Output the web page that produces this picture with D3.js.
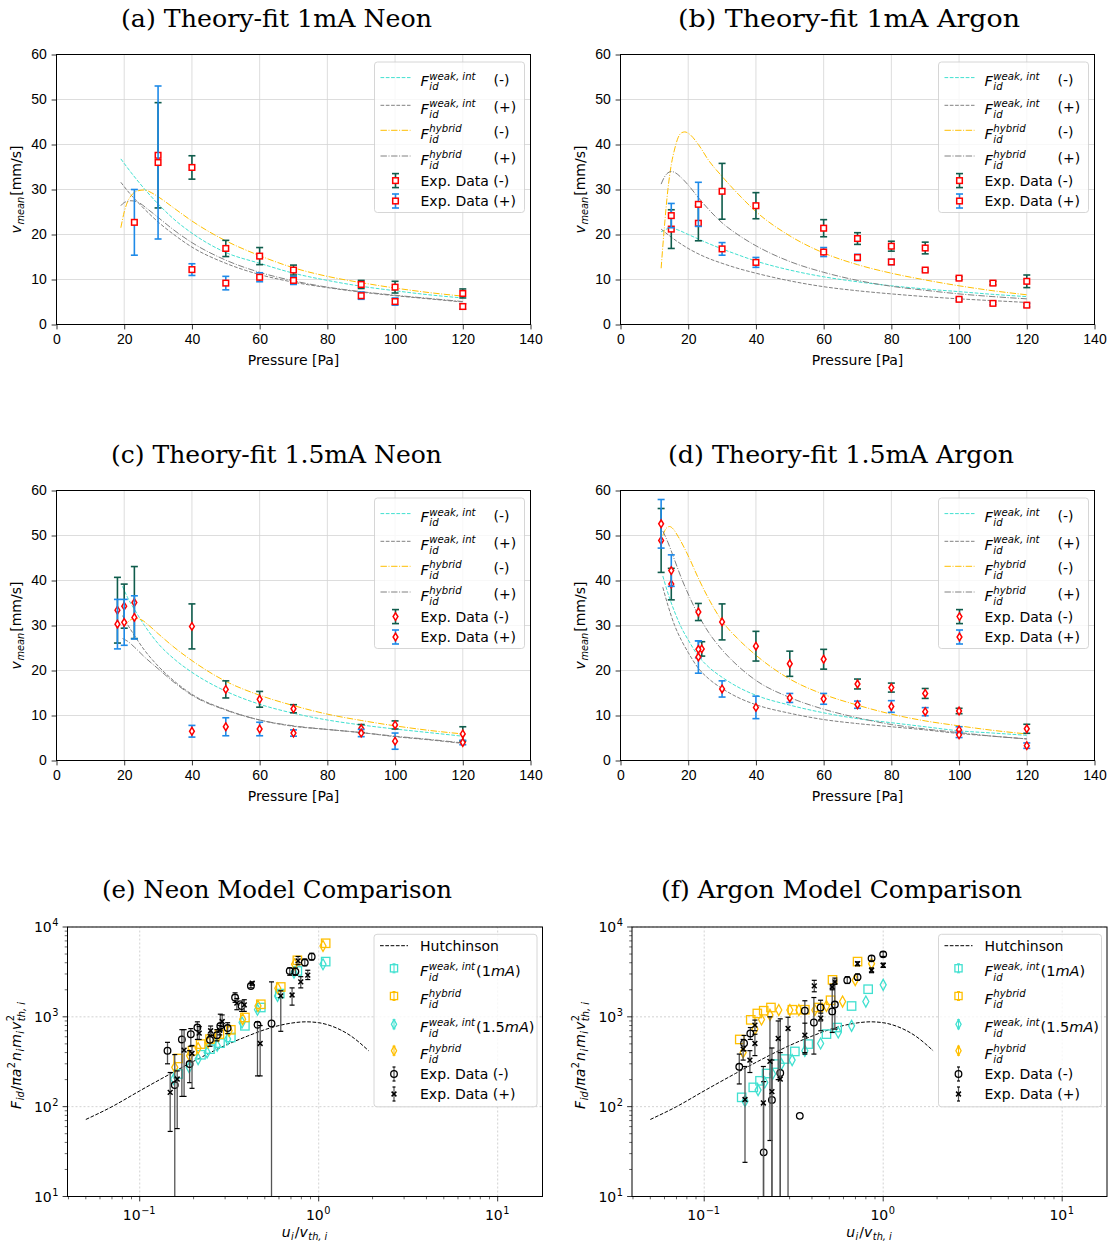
<!DOCTYPE html>
<html>
<head>
<meta charset="utf-8">
<script src="https://cdn.jsdelivr.net/npm/d3@7"></script>
<style>
  body { margin: 0; background: #fff; }
  svg { display: block; }
</style>
</head>
<body>
<script>
// ---------- tick values ----------
const pressTicks = [0, 20, 40, 60, 80, 100, 120, 140];
const velTicks = [0, 10, 20, 30, 40, 50, 60];
const ratioTicks = [0.1, 1, 10];
const ratioTickExp = ['\u22121', '0', '1'];
const forceTicks = [10, 100, 1000, 10000];
const forceTickExp = ['1', '2', '3', '4'];

const panelTitles = ['(a) Theory-fit 1mA Neon', '(b) Theory-fit 1mA Argon',
  '(c) Theory-fit 1.5mA Neon', '(d) Theory-fit 1.5mA Argon',
  '(e) Neon Model Comparison', '(f) Argon Model Comparison'];

// ---------- (a) 1mA Neon : [pressure, v_mean, err] ----------
const neon1_minus = [[30,37.6,11.7],[40,34.9,2.6],[50,16.9,1.8],[60,15.2,1.9],[70,12.1,1.1],[90,8.9,0.9],[100,8.3,1.3],[120,6.9,1.0]];
const neon1_plus = [[23,22.7,7.3],[30,36.0,17.0],[40,12.2,1.3],[50,9.2,1.5],[60,10.5,1.0],[70,9.8,0.9],[90,6.4,0.8],[100,5.1,0.8],[120,4.0,0.6]];
const neon1_weakMinus = [[19,36.8],[22,33.8],[25,31],[30,26.8],[35,23.2],[40,20.3],[50,16.0],[60,13.6],[70,11.4],[80,9.8],[90,8.5],[100,7.5],[110,6.6],[120,5.9]];
const neon1_weakPlus = [[19,31.6],[22,28.8],[25,26.4],[30,22.8],[35,19.8],[40,17.2],[50,13.6],[60,11.1],[70,9.4],[80,8.2],[90,7.2],[100,6.4],[110,5.7],[120,5.0]];
const neon1_hybMinus = [[19,21.5],[20,25],[21,27.3],[22,28.6],[24,29.7],[26,29.9],[28,29.3],[30,28.4],[35,25.7],[40,23.0],[50,18.6],[60,15.3],[70,12.6],[80,10.7],[90,9.3],[100,8.1],[110,7.1],[120,6.3]];
const neon1_hybPlus = [[19,26.4],[20,27.1],[22,27.5],[24,27.2],[27,25.6],[30,23.8],[35,20.8],[40,18.2],[50,14.3],[60,11.6],[70,9.7],[80,8.3],[90,7.3],[100,6.5],[110,5.8],[120,5.1]];

// ---------- (b) 1mA Argon ----------
const argon1_minus = [[15,21.2,4.3],[23,22.5,3.9],[30,29.6,6.2],[40,26.4,2.9],[60,21.4,1.9],[70,19.1,1.3],[80,17.4,1.1],[90,17.0,1.3],[100,10.3,0.3],[110,9.2,0.4],[120,9.6,1.4]];
const argon1_plus = [[15,24.2,2.7],[23,26.7,4.9],[30,16.8,1.4],[40,13.8,1.1],[60,16.1,1.0],[70,14.9,0.7],[80,13.9,0.6],[90,12.1,0.3],[100,5.6,0.3],[110,4.7,0.3],[120,4.3,0.4]];
const argon1_weakMinus = [[12,20.6],[14,21.3],[15,21.4],[17,21.0],[20,20.0],[23,19.0],[26,18.0],[30,16.8],[35,15.4],[40,14.1],[50,12.1],[60,10.6],[70,9.5],[80,8.6],[90,7.9],[100,7.3],[110,6.7],[120,6.2]];
const argon1_weakPlus = [[12,21.2],[15,19.4],[20,16.9],[25,15.0],[30,13.6],[35,12.4],[40,11.4],[50,9.7],[60,8.4],[70,7.5],[80,6.8],[90,6.2],[100,5.7],[110,5.3],[120,4.9]];
const argon1_hybMinus = [[12,12.5],[13,22],[14,30],[15,35.5],[16,39],[17,41.5],[18,42.6],[19,42.8],[20,42.5],[23,40.0],[26,36.5],[30,32.9],[35,28.8],[40,25.1],[50,19.7],[60,15.9],[70,13.3],[80,11.4],[90,9.9],[100,8.6],[110,7.5],[120,6.6]];
const argon1_hybPlus = [[12,31.2],[13,32.8],[14,33.7],[15,34.0],[16,33.8],[18,32.6],[20,31],[23,28.2],[26,25.6],[30,22.6],[35,19.8],[40,17.5],[50,14.0],[60,11.6],[70,9.8],[80,8.5],[90,7.6],[100,6.8],[110,6.2],[120,5.7]];

// ---------- (c) 1.5mA Neon ----------
const neon15_minus = [[18,33.4,7.3],[20,34.3,4.9],[23,35.1,8.0],[40,29.8,5.0],[50,15.8,1.9],[60,13.6,1.75],[70,11.5,0.9],[90,7.1,0.9],[100,7.9,0.9],[120,5.9,1.6]];
const neon15_plus = [[18,30.3,5.5],[20,30.7,5.1],[23,31.8,4.8],[40,6.5,1.3],[50,7.5,2.0],[60,7.0,1.5],[70,6.1,0.7],[90,6.1,0.8],[100,4.3,1.8],[120,4.0,0.5]];
const neon15_weakMinus = [[19.5,38.7],[21,36.2],[23,33.6],[26,30.0],[30,26.0],[35,22.4],[40,19.6],[50,15.4],[60,12.5],[70,10.5],[80,9.0],[90,7.9],[100,7.0],[110,6.2],[120,5.4]];
const neon15_weakPlus = [[19.5,32.2],[21,30.2],[23,27.8],[26,24.5],[30,21.0],[35,17.5],[40,14.7],[50,11.3],[60,9.0],[70,7.6],[80,6.9],[90,6.2],[100,5.3],[110,4.6],[120,3.8]];
const neon15_hybMinus = [[19.5,29.4],[21,30.7],[23,31.6],[25,31.3],[27,30.2],[30,28.2],[35,25.0],[40,22.2],[50,17.6],[60,14.5],[70,12.2],[80,10.3],[90,8.9],[100,7.7],[110,6.7],[120,5.9]];
const neon15_hybPlus = [[19.5,27.1],[21,26.5],[23,25.2],[26,23.0],[30,20.4],[35,17.2],[40,14.5],[50,11.2],[60,9.0],[70,7.7],[80,6.9],[90,6.2],[100,5.4],[110,4.7],[120,3.9]];

// ---------- (d) 1.5mA Argon ----------
const argon15_minus = [[12,48.9,7.1],[15,39.2,3.5],[23,33.0,1.9],[24,24.8,1.6],[30,30.8,4.0],[40,25.4,3.3],[50,21.5,2.8],[60,22.5,2.2],[70,17.0,1.1],[80,16.2,1.0],[90,14.9,1.1],[100,11.0,0.6],[120,7.05,1.0]];
const argon15_plus = [[12,52.6,5.4],[15,42.2,3.5],[23,24.7,1.9],[23,23.0,3.6],[30,15.9,1.8],[40,11.8,2.5],[50,13.9,1.0],[60,13.7,1.2],[70,12.4,0.8],[80,12.0,1.3],[90,10.85,0.9],[100,6.8,0.7],[100,5.7,0.6],[120,3.3,0.6]];
const argon15_weakMinus = [[12.5,41.0],[14,37.2],[16,33.0],[18,29.5],[20,26.8],[23,23.2],[26,20.8],[30,18.5],[35,16.2],[40,14.5],[50,12.3],[60,10.6],[70,9.3],[80,8.4],[90,7.5],[100,6.6],[110,6.1],[120,5.6]];
const argon15_weakPlus = [[12.5,38.5],[14,34.5],[16,30.0],[18,26.7],[20,24.0],[23,20.5],[26,18.2],[30,16.0],[35,13.9],[40,12.4],[50,10.5],[60,9.1],[70,8.2],[80,7.5],[90,6.8],[100,6.0],[110,5.4],[120,4.8]];
const argon15_hybMinus = [[12.5,50.0],[13.5,51.6],[14.5,52.0],[15.5,51.5],[17,49.8],[20,45.5],[23,40.5],[26,36.0],[30,31.0],[35,26.8],[40,23.4],[50,18.1],[60,14.7],[70,12.3],[80,10.3],[90,8.8],[100,7.7],[110,6.7],[120,5.9]];
const argon15_hybPlus = [[12.5,51],[14,48.5],[16,44.5],[18,40.5],[20,37.0],[23,32.3],[26,28.5],[30,24.6],[35,20.8],[40,17.8],[50,14.0],[60,11.4],[70,9.5],[80,8.0],[90,7.0],[100,6.2],[110,5.4],[120,4.8]];

// ---------- (e)/(f) model comparison : [u_i/v_th, F] ----------
const hutchinson = [[0.05,72],[0.07,100],[0.1,150],[0.15,235],[0.2,320],[0.3,480],[0.4,610],[0.5,720],[0.6,800],[0.7,850],[0.85,880],[1.0,860],[1.2,780],[1.5,620],[1.9,420]];

const neonWeak1 = [[0.164,231],[0.220,378],[0.247,437],[0.281,509],[0.323,589],[0.387,794],[0.475,1270],[0.606,1815],[0.760,3240],[1.094,4120]];
const neonHyb1 = [[0.164,344],[0.197,419],[0.219,497],[0.247,565],[0.279,642],[0.323,717],[0.387,984],[0.475,1380],[0.614,2150],[0.760,4260],[1.094,6590]];
const neonWeak15 = [[0.155,203],[0.189,274],[0.212,339],[0.238,402],[0.271,477],[0.310,565],[0.373,865],[0.455,1200],[0.589,1710],[0.728,3110],[1.057,3850]];
const neonHyb15 = [[0.157,274],[0.190,369],[0.212,449],[0.241,519],[0.275,615],[0.316,698],[0.376,942],[0.458,1320],[0.591,2080],[0.733,3850],[1.057,6150]];
// [x, F, lower end, upper end]  (lower end 0 = runs off the axis)
const neonExpMinus = [[0.143,419,300,520],[0.157,174,0,380],[0.172,560,130,720],[0.190,298,185,420],[0.193,640,470,740],[0.210,760,560,880],[0.247,555,470,640],[0.270,625,540,720],[0.282,790,700,1070],[0.310,750,650,860],[0.341,1640,1450,1850],[0.371,1320,1150,1500],[0.418,2200,2100,2350],[0.455,815,220,880],[0.545,843,0,2450],[0.689,3240,2900,3500],[0.741,3190,2900,3500],[0.836,4020,3700,4400],[0.914,4670,4300,5100]];
const neonExpPlus = [[0.148,144,53,240],[0.162,203,57,250],[0.177,426,130,720],[0.196,391,160,480],[0.215,659,560,780],[0.249,700,620,790],[0.280,710,630,800],[0.289,887,780,1050],[0.349,1420,1200,1600],[0.384,1360,1150,1550],[0.425,2370,2250,2450],[0.471,505,220,800],[0.614,1710,690,1950],[0.710,1750,1350,2100],[0.794,2450,2100,2800],[0.869,2910,2600,3300],[0.767,4190,3800,4700]];

const argonWeak1 = [[0.162,127],[0.188,164],[0.205,194],[0.223,234],[0.248,298],[0.282,339],[0.321,412],[0.381,497],[0.482,642],[0.553,760],[0.666,1320],[0.824,2030]];
const argonHyb1 = [[0.158,560],[0.182,926],[0.198,1090],[0.215,1170],[0.236,1270],[0.311,1200],[0.365,1200],[0.434,1270],[0.508,1530],[0.521,2580],[0.719,4120]];
const argonWeak15 = [[0.169,115],[0.200,153],[0.218,186],[0.241,231],[0.270,298],[0.310,330],[0.365,419],[0.447,505],[0.561,670],[0.666,794],[0.800,1480],[1.0,2270]];
const argonHyb15 = [[0.165,402],[0.192,730],[0.209,934],[0.233,1050],[0.261,1190],[0.301,1190],[0.338,1190],[0.415,1190],[0.482,1320],[0.593,1480],[0.698,2560],[0.861,3910]];
const argonExpMinus = [[0.157,278,179,385],[0.167,509,420,620],[0.181,653,560,760],[0.215,31,0,190],[0.239,119,0,330],[0.266,237,0,950],[0.342,79,79,79],[0.365,1170,385,1510],[0.410,865,385,1640],[0.447,1270,900,1530],[0.519,1150,670,2150],[0.537,1370,730,2450],[0.630,2560,2350,2800],[0.719,2770,2550,3000],[0.861,4480,4200,4800],[1.0,4960,4700,5300]];
const argonExpPlus = [[0.165,437,330,560],[0.169,120,24,280],[0.180,330,240,420],[0.192,808,700,920],[0.192,505,370,640],[0.214,110,0,280],[0.233,319,42,1000],[0.239,147,0,450],[0.259,574,200,900],[0.266,203,0,400],[0.294,742,0,990],[0.365,625,400,850],[0.412,2210,1900,2550],[0.448,966,700,1100],[0.519,2150,2000,2300],[0.537,2450,2300,2700],[0.719,3910,3700,4100],[0.861,3300,3100,3500],[1.0,3750,3550,3950]];

// ---------- styles ----------
const cWeak = '#40e0d0', cGray = '#808080', cHyb = '#ffbf00';
const cMinusBar = '#0f5c4c', cPlusBar = '#1e8ae8', cMark = '#ff0000';
const dashed = '3.7,1.6', dashdot = '6.4,1.6,1,1.6';
const tickLen = 4.9, tickPad = 4.9;

const svg = d3.select('body').append('svg')
    .attr('width', 1113).attr('height', 1246)
    .style('font-family', '"DejaVu Sans", sans-serif');

// small mathtext-like writer: parts are {s} runs or {sup, sub} stacks
function mathText(parent, x, y, parts, fs, anchor) {
    const g = parent.append('g');
    const sm = fs * 0.7;
    let cx = 0;
    const put = (str, px, py, size, it) => g.append('text')
        .attr('x', px).attr('y', py).attr('font-size', size)
        .attr('font-style', it ? 'italic' : 'normal').attr('fill', '#000')
        .text(str).node().getComputedTextLength();
    parts.forEach(p => {
        if (p.s !== undefined) { cx += put(p.s, cx, 0, fs, p.i); return; }
        let w = 0;
        const both = p.sup !== undefined && p.sub !== undefined;
        if (p.sup !== undefined) w = Math.max(w, put(p.sup, cx + 0.5, both ? -fs * 0.45 : -fs * 0.4, sm, p.supI));
        if (p.sub !== undefined) w = Math.max(w, put(p.sub, cx + 0.5, both ? fs * 0.3 : fs * 0.22, sm, p.subI));
        cx += w + 1.5;
    });
    const shift = anchor === 'middle' ? -cx / 2 : anchor === 'end' ? -cx : 0;
    g.attr('transform', `translate(${x + shift},${y})`);
    return g;
}

function styleAxis(sel) {
    sel.select('.domain').remove();
    sel.selectAll('line').attr('stroke', '#000').attr('stroke-width', 0.8);
    sel.selectAll('text').attr('font-size', 14).attr('fill', '#000');
}

function drawSquare(g, cx, cy, h, stroke, sw) {
    g.append('rect').attr('x', cx - h).attr('y', cy - h).attr('width', 2 * h).attr('height', 2 * h)
        .attr('fill', 'white').attr('fill-opacity', stroke === cMark ? 1 : 0)
        .attr('stroke', stroke).attr('stroke-width', sw);
}
function drawDiamond(g, cx, cy, hw, hh, stroke, sw) {
    g.append('path').attr('d', `M${cx},${cy - hh}L${cx + hw},${cy}L${cx},${cy + hh}L${cx - hw},${cy}Z`)
        .attr('fill', stroke === cMark ? 'white' : 'none').attr('stroke', stroke).attr('stroke-width', sw);
}
function drawCircle(g, cx, cy) {
    g.append('circle').attr('cx', cx).attr('cy', cy).attr('r', 3.3)
        .attr('fill', 'none').attr('stroke', '#000').attr('stroke-width', 1.3);
}
function drawCross(g, cx, cy) {
    const h = 2.4;
    g.append('path').attr('d', `M${cx - h},${cy - h}L${cx + h},${cy + h}M${cx - h},${cy + h}L${cx + h},${cy - h}`)
        .attr('stroke', '#000').attr('stroke-width', 1.5);
}
function vBar(g, cx, y1, y2, col, w, cap, capCol) {
    g.append('line').attr('x1', cx).attr('x2', cx).attr('y1', y1).attr('y2', y2)
        .attr('stroke', col).attr('stroke-width', w);
    [y1, y2].forEach(yy => {
        if (yy === null) return;
        g.append('line').attr('x1', cx - cap).attr('x2', cx + cap).attr('y1', yy).attr('y2', yy)
            .attr('stroke', capCol || col).attr('stroke-width', w);
    });
}

function title(i, cx, y, len) {
    svg.append('text').attr('x', cx).attr('y', y).attr('text-anchor', 'middle')
        .attr('font-family', '"DejaVu Serif", serif').attr('font-size', 25)
        .attr('textLength', len).attr('lengthAdjust', 'spacingAndGlyphs')
        .text(panelTitles[i]);
}

// ---------- pressure panels (a)-(d) ----------
function pressurePanel(p) {
    const g = svg.append('g');
    const x = d3.scaleLinear().domain([0, 140]).range([p.left, p.left + 474]);
    const y = d3.scaleLinear().domain([0, 60]).range([p.top + 270, p.top]);

    g.selectAll('.gx').data(pressTicks).join('line')
        .attr('x1', d => x(d)).attr('x2', d => x(d)).attr('y1', y(0)).attr('y2', y(60))
        .attr('stroke', '#d4d4d4').attr('stroke-width', 0.8);
    g.selectAll('.gy').data(velTicks).join('line')
        .attr('x1', x(0)).attr('x2', x(140)).attr('y1', d => y(d)).attr('y2', d => y(d))
        .attr('stroke', '#d4d4d4').attr('stroke-width', 0.8);

    const line = d3.line().x(d => x(d[0])).y(d => y(d[1])).curve(d3.curveMonotoneX);
    p.curves.forEach(c => {
        g.append('path').attr('d', line(c.data)).attr('fill', 'none')
            .attr('stroke', c.col).attr('stroke-width', 1).attr('stroke-dasharray', c.dash);
    });

    [[p.minus, cMinusBar], [p.plus, cPlusBar]].forEach(([data, col]) => {
        const sg = g.append('g');
        data.forEach(d => vBar(sg, x(d[0]), y(d[1] - d[2]), y(d[1] + d[2]), col, 1.6, 3.5));
        data.forEach(d => p.diamond ? drawDiamond(sg, x(d[0]), y(d[1]), 2.4, 3.8, cMark, 1.5)
                                    : drawSquare(sg, x(d[0]), y(d[1]), 2.8, cMark, 1.5));
    });

    g.append('g').attr('transform', `translate(0,${y(0)})`)
        .call(d3.axisBottom(x).tickValues(pressTicks).tickSize(tickLen).tickPadding(tickPad)).call(styleAxis);
    g.append('g').attr('transform', `translate(${x(0)},0)`)
        .call(d3.axisLeft(y).tickValues(velTicks).tickSize(tickLen).tickPadding(tickPad)).call(styleAxis);
    g.append('rect').attr('x', x(0)).attr('y', y(60)).attr('width', x(140) - x(0)).attr('height', y(0) - y(60))
        .attr('fill', 'none').attr('stroke', '#000').attr('stroke-width', 1);

    g.append('text').attr('x', (x(0) + x(140)) / 2).attr('y', y(0) + 40).attr('text-anchor', 'middle')
        .attr('font-size', 14).text('Pressure [Pa]');
    const yl = g.append('g').attr('transform', `translate(${p.left - 36},${p.top + 135}) rotate(-90)`);
    mathText(yl, 0, 0, [{s: 'v', i: true}, {sub: 'mean', subI: true}, {s: ' [mm/s]'}], 14, 'middle');

    // legend
    const lx = x(140) - 156, ly = p.top + 7.5;
    const lg = g.append('g');
    lg.append('rect').attr('x', lx).attr('y', ly).attr('width', 150).attr('height', 150.5).attr('rx', 3)
        .attr('fill', 'white').attr('fill-opacity', 0.8).attr('stroke', '#cccccc').attr('stroke-width', 0.8);
    const rows = [15.6, 43.3, 68.3, 94, 118.6, 139];
    const entries = [
        {col: cWeak, dash: dashed, sup: 'weak, int', tag: '(-)'},
        {col: cGray, dash: dashed, sup: 'weak, int', tag: '(+)'},
        {col: cHyb, dash: dashdot, sup: 'hybrid', tag: '(-)'},
        {col: cGray, dash: dashdot, sup: 'hybrid', tag: '(+)'}
    ];
    entries.forEach((e, i) => {
        const yy = ly + rows[i];
        lg.append('line').attr('x1', lx + 6).attr('x2', lx + 36).attr('y1', yy).attr('y2', yy)
            .attr('stroke', e.col).attr('stroke-width', 1).attr('stroke-dasharray', e.dash);
        mathText(lg, lx + 46, yy + 8.5, [{s: 'F', i: true}, {sup: e.sup, supI: true, sub: 'id', subI: true}], 14.5);
        lg.append('text').attr('x', lx + 119).attr('y', yy + 7).attr('font-size', 14).text(e.tag);
    });
    [[cMinusBar, 'Exp. Data (-)'], [cPlusBar, 'Exp. Data (+)']].forEach(([col, label], i) => {
        const yy = ly + rows[4 + i];
        vBar(lg, lx + 21, yy - 7, yy + 7, col, 1.6, 3.5);
        if (p.diamond) drawDiamond(lg, lx + 21, yy, 2.4, 3.8, cMark, 1.5);
        else drawSquare(lg, lx + 21, yy, 2.8, cMark, 1.5);
        lg.append('text').attr('x', lx + 46).attr('y', yy + 5).attr('font-size', 14).text(label);
    });
}

// ---------- model comparison panels (e)-(f) ----------
function modelPanel(p) {
    const g = svg.append('g');
    const x = d3.scaleLog().domain([0.0395, 17.8]).range([p.left, p.left + 475]);
    const y = d3.scaleLog().domain([10, 10000]).range([1196.5, 927]);

    g.selectAll('.gx').data(ratioTicks).join('line')
        .attr('x1', d => x(d)).attr('x2', d => x(d)).attr('y1', y(10)).attr('y2', y(10000))
        .attr('stroke', '#c8c8c8').attr('stroke-width', 0.8).attr('stroke-dasharray', '2,2');
    g.selectAll('.gy').data(forceTicks).join('line')
        .attr('x1', x.range()[0]).attr('x2', x.range()[1]).attr('y1', d => y(d)).attr('y2', d => y(d))
        .attr('stroke', '#c8c8c8').attr('stroke-width', 0.8).attr('stroke-dasharray', '2,2');

    const line = d3.line().x(d => x(d[0])).y(d => y(d[1])).curve(d3.curveMonotoneX);
    g.append('path').attr('d', line(hutchinson)).attr('fill', 'none')
        .attr('stroke', '#000').attr('stroke-width', 1).attr('stroke-dasharray', dashed);

    const mg = g.append('g');
    p.weak1.forEach(d => drawSquare(mg, x(d[0]), y(d[1]), 4.2, cWeak, 1.3));
    p.hyb1.forEach(d => drawSquare(mg, x(d[0]), y(d[1]), 4.2, cHyb, 1.3));
    p.weak15.forEach(d => drawDiamond(mg, x(d[0]), y(d[1]), 3, 5.5, cWeak, 1.3));
    p.hyb15.forEach(d => drawDiamond(mg, x(d[0]), y(d[1]), 3, 5.5, cHyb, 1.3));

    const bottom = y(10);
    const barEnd = v => v <= 10 ? null : y(v);
    [[p.expMinus, drawCircle], [p.expPlus, drawCross]].forEach(([data, mark]) => {
        const sg = g.append('g');
        data.forEach(d => {
            if (d[2] === d[3]) return;
            const lo = barEnd(d[2]);
            sg.append('line').attr('x1', x(d[0])).attr('x2', x(d[0]))
                .attr('y1', lo === null ? bottom : lo).attr('y2', y(d[3]))
                .attr('stroke', '#555').attr('stroke-width', 1.3);
            [lo, y(d[3])].forEach(yy => {
                if (yy === null) return;
                sg.append('line').attr('x1', x(d[0]) - 2.5).attr('x2', x(d[0]) + 2.5)
                    .attr('y1', yy).attr('y2', yy).attr('stroke', '#000').attr('stroke-width', 1.2);
            });
        });
        data.forEach(d => mark(sg, x(d[0]), y(d[1])));
    });

    // axes
    const x0 = x.range()[0], x1 = x.range()[1];
    const minorX = x.ticks().filter(t => !ratioTicks.some(m => Math.abs(m - t) < 1e-9));
    const minorY = y.ticks().filter(t => !forceTicks.includes(t));
    const ax = g.append('g');
    ax.selectAll('.mx').data(ratioTicks).join('line').attr('x1', d => x(d)).attr('x2', d => x(d))
        .attr('y1', bottom).attr('y2', bottom + tickLen).attr('stroke', '#000').attr('stroke-width', 0.8);
    ax.selectAll('.nx').data(minorX).join('line').attr('x1', d => x(d)).attr('x2', d => x(d))
        .attr('y1', bottom).attr('y2', bottom + 2.8).attr('stroke', '#000').attr('stroke-width', 0.6);
    ax.selectAll('.my').data(forceTicks).join('line').attr('x1', x0 - tickLen).attr('x2', x0)
        .attr('y1', d => y(d)).attr('y2', d => y(d)).attr('stroke', '#000').attr('stroke-width', 0.8);
    ax.selectAll('.ny').data(minorY).join('line').attr('x1', x0 - 2.8).attr('x2', x0)
        .attr('y1', d => y(d)).attr('y2', d => y(d)).attr('stroke', '#000').attr('stroke-width', 0.6);
    ratioTicks.forEach((t, i) => mathText(ax, x(t), bottom + 23, [{s: '10'}, {sup: ratioTickExp[i]}], 14, 'middle'));
    forceTicks.forEach((t, i) => mathText(ax, x0 - 8, y(t) + 5, [{s: '10'}, {sup: forceTickExp[i]}], 14, 'end'));
    g.append('rect').attr('x', x0).attr('y', y(10000)).attr('width', x1 - x0).attr('height', bottom - y(10000))
        .attr('fill', 'none').attr('stroke', '#000').attr('stroke-width', 1);

    mathText(g, (x0 + x1) / 2, 1237, [{s: 'u', i: true}, {sub: 'i', subI: true}, {s: '/'}, {s: 'v', i: true},
        {sub: 'th, i', subI: true}], 14, 'middle');
    const yl = g.append('g').attr('transform', `translate(${x0 - 47},1055) rotate(-90)`);
    mathText(yl, 0, 0, [{s: 'F', i: true}, {sub: 'id', subI: true}, {s: '/'}, {s: '\u03c0a', i: true},
        {sup: '2'}, {s: 'n', i: true}, {sub: 'i', subI: true}, {s: 'm', i: true}, {sub: 'i', subI: true},
        {s: 'v', i: true}, {sup: '2', sub: 'th, i', subI: true}], 14, 'middle');

    // legend
    const lx = x1 - 168.5, ly = 934.3;
    const lg = g.append('g');
    lg.append('rect').attr('x', lx).attr('y', ly).attr('width', 163).attr('height', 172.5).attr('rx', 3)
        .attr('fill', 'white').attr('fill-opacity', 0.8).attr('stroke', '#cccccc').attr('stroke-width', 0.8);
    const rows = [11.4, 34, 61.7, 90, 116.4, 139.7, 159.7];
    lg.append('line').attr('x1', lx + 6).attr('x2', lx + 34).attr('y1', ly + rows[0]).attr('y2', ly + rows[0])
        .attr('stroke', '#000').attr('stroke-width', 1).attr('stroke-dasharray', dashed);
    lg.append('text').attr('x', lx + 46).attr('y', ly + rows[0] + 5).attr('font-size', 14).text('Hutchinson');
    const ents = [
        {col: cWeak, sq: true, sup: 'weak, int', tail: '1'},
        {col: cHyb, sq: true, sup: 'hybrid'},
        {col: cWeak, sq: false, sup: 'weak, int', tail: '1.5'},
        {col: cHyb, sq: false, sup: 'hybrid'}
    ];
    ents.forEach((e, i) => {
        const yy = ly + rows[i + 1], cx = lx + 20;
        vBar(lg, cx, yy - 4.5, yy + 4.5, e.col, 1, 1.5);
        if (e.sq) drawSquare(lg, cx, yy, 3.6, e.col, 1.3); else drawDiamond(lg, cx, yy, 2.6, 4.8, e.col, 1.3);
        const parts = [{s: 'F', i: true}, {sup: e.sup, supI: true, sub: 'id', subI: true}];
        if (e.tail) parts.push({s: '(' + e.tail}, {s: 'mA', i: true}, {s: ')'});
        mathText(lg, lx + 46, yy + 8, parts, 14.5);
    });
    [[drawCircle, 'Exp. Data (-)'], [drawCross, 'Exp. Data (+)']].forEach(([mark, label], i) => {
        const yy = ly + rows[5 + i], cx = lx + 20;
        vBar(lg, cx, yy - 7, yy + 7, '#555', 1.2, 1.5, '#000');
        mark(lg, cx, yy);
        lg.append('text').attr('x', lx + 46).attr('y', yy + 5).attr('font-size', 14).text(label);
    });
}

function curveSet(wm, wp, hm, hp) {
    return [{data: wm, col: cWeak, dash: dashed}, {data: wp, col: cGray, dash: dashed},
            {data: hm, col: cHyb, dash: dashdot}, {data: hp, col: cGray, dash: dashdot}];
}

pressurePanel({left: 56.5, top: 54.5, minus: neon1_minus, plus: neon1_plus,
    curves: curveSet(neon1_weakMinus, neon1_weakPlus, neon1_hybMinus, neon1_hybPlus)});
pressurePanel({left: 620.5, top: 54.5, minus: argon1_minus, plus: argon1_plus,
    curves: curveSet(argon1_weakMinus, argon1_weakPlus, argon1_hybMinus, argon1_hybPlus)});
pressurePanel({left: 56.5, top: 490.5, minus: neon15_minus, plus: neon15_plus, diamond: true,
    curves: curveSet(neon15_weakMinus, neon15_weakPlus, neon15_hybMinus, neon15_hybPlus)});
pressurePanel({left: 620.5, top: 490.5, minus: argon15_minus, plus: argon15_plus, diamond: true,
    curves: curveSet(argon15_weakMinus, argon15_weakPlus, argon15_hybMinus, argon15_hybPlus)});

modelPanel({left: 67.5, weak1: neonWeak1, hyb1: neonHyb1, weak15: neonWeak15, hyb15: neonHyb15,
    expMinus: neonExpMinus, expPlus: neonExpPlus});
modelPanel({left: 632, weak1: argonWeak1, hyb1: argonHyb1, weak15: argonWeak15, hyb15: argonHyb15,
    expMinus: argonExpMinus, expPlus: argonExpPlus});

title(0, 276.5, 27, 311);
title(1, 849, 27, 342);
title(2, 276.5, 463, 331);
title(3, 841, 463, 346);
title(4, 277, 898, 350);
title(5, 841.5, 898, 361);
</script>
</body>
</html>
